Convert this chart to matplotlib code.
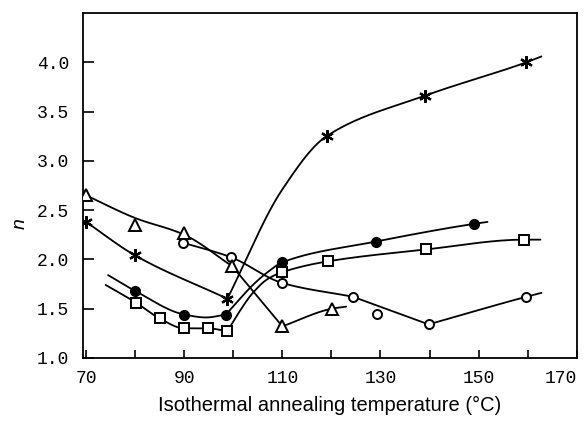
"""
Exponent n vs. isothermal annealing temperature, five sample series.
"""
import numpy as np
import matplotlib
matplotlib.use("Agg")
import matplotlib.pyplot as plt
from matplotlib.ticker import MultipleLocator

# ---------------------------------------------------------------------------
# Data (markers)
# ---------------------------------------------------------------------------
star_x = [70, 80, 98.8, 119, 139, 159.7]
star_y = [2.38, 2.04, 1.60, 3.25, 3.66, 4.00]

dot_x = [80, 90, 98.5, 110, 129, 149]
dot_y = [1.68, 1.44, 1.44, 1.97, 2.18, 2.36]

square_x = [80.2, 85, 90, 94.8, 98.8, 110, 119.3, 139.2, 159.3]
square_y = [1.56, 1.40, 1.30, 1.30, 1.27, 1.87, 1.98, 2.10, 2.20]

circle_x = [89.7, 99.6, 110, 124.4, 129.3, 139.8, 159.7]
circle_y = [2.17, 2.02, 1.76, 1.62, 1.45, 1.34, 1.62]

tri_x = [70, 80, 90, 99.8, 110, 120.2]
tri_y = [2.65, 2.35, 2.27, 1.93, 1.32, 1.50]

x_ticks = [70, 90, 110, 130, 150, 170]
y_ticks = [1.0, 1.5, 2.0, 2.5, 3.0, 3.5, 4.0]

# Hand-drawn guide curves (knots), split at sharp corners
star_curve = [
    ([70, 80, 98.8], [2.38, 2.04, 1.60]),
    ([98.8, 110, 119, 139, 159.7, 162.8],
     [1.60, 2.71, 3.25, 3.66, 4.00, 4.06]),
]
dot_curve = [
    ([74.5, 80, 90, 94.5, 98.5], [1.84, 1.68, 1.44, 1.41, 1.44]),
    ([98.5, 101, 104, 107, 110, 129, 149, 151.8],
     [1.44, 1.58, 1.74, 1.87, 1.97, 2.18, 2.36, 2.38]),
]
square_curve = [
    ([74, 80.2, 85, 90, 94.8, 98.8], [1.74, 1.56, 1.40, 1.30, 1.30, 1.27]),
    ([98.8, 101, 104, 107, 110, 119.3, 139.2, 159.3, 162.6],
     [1.27, 1.45, 1.66, 1.80, 1.87, 1.98, 2.10, 2.20, 2.20]),
]
circle_curve = [
    ([89.7, 99.6, 110, 124.4], [2.17, 2.02, 1.76, 1.62]),
    ([124.4, 139.8], [1.62, 1.34]),
    ([139.8, 159.7, 162.8], [1.34, 1.62, 1.66]),
]
tri_curve = [
    ([70, 80, 90, 99.8], [2.65, 2.42, 2.25, 1.93]),
    ([99.8, 110], [1.93, 1.32]),
    ([110, 120.2, 123], [1.32, 1.50, 1.52]),
]


def smooth(xs, ys, n=40):
    """Monotone cubic (Fritsch-Carlson) curve through the knots."""
    x = np.asarray(xs, float)
    y = np.asarray(ys, float)
    if len(x) < 3:
        return x, y
    h = np.diff(x)
    d = np.diff(y) / h
    m = np.empty_like(x)
    m[0], m[-1] = d[0], d[-1]
    for i in range(1, len(x) - 1):
        if d[i - 1] * d[i] <= 0:
            m[i] = 0.0
        else:
            w1 = 2 * h[i] + h[i - 1]
            w2 = h[i] + 2 * h[i - 1]
            m[i] = (w1 + w2) / (w1 / d[i - 1] + w2 / d[i])
    px, py = [], []
    for i in range(len(x) - 1):
        t = np.linspace(0, 1, n)
        h00 = 2 * t**3 - 3 * t**2 + 1
        h10 = t**3 - 2 * t**2 + t
        h01 = -2 * t**3 + 3 * t**2
        h11 = t**3 - t**2
        px.append(x[i] + t * h[i])
        py.append(h00 * y[i] + h10 * h[i] * m[i] + h01 * y[i + 1]
                  + h11 * h[i] * m[i + 1])
    return np.concatenate(px), np.concatenate(py)


fig = plt.figure(figsize=(5.85, 4.22), dpi=100)
ax = fig.add_axes([0.142, 0.152, 0.844, 0.817])

line_kw = dict(color="black", lw=1.3, solid_capstyle="round")
for curve in (star_curve, dot_curve, square_curve, circle_curve, tri_curve):
    for cx, cy in curve:
        sx, sy = smooth(cx, cy)
        ax.plot(sx, sy, **line_kw, zorder=2)

ax.plot(star_x, star_y, ls="none", marker=(6, 2, 0), ms=9, mew=1.6,
        color="black", zorder=3)
ax.plot(dot_x, dot_y, ls="none", marker="o", ms=7, color="black", zorder=3)
ax.plot(square_x, square_y, ls="none", marker="s", ms=6.5, mfc="white",
        mec="black", mew=1.4, zorder=3)
ax.plot(circle_x, circle_y, ls="none", marker="o", ms=6.5, mfc="white",
        mec="black", mew=1.4, zorder=3)
ax.plot(tri_x, tri_y, ls="none", marker="^", ms=8, mfc="white",
        mec="black", mew=1.4, zorder=3)

ax.set_xlim(69.4, 170)
ax.set_ylim(1.0, 4.5)
ax.set_xticks(x_ticks)
ax.xaxis.set_minor_locator(MultipleLocator(10))
ax.set_yticks(y_ticks)
ax.set_yticklabels([f"{v:.1f}" for v in y_ticks])

ax.tick_params(axis="both", which="both", direction="in", width=1.2,
               labelsize=13)
ax.tick_params(axis="x", which="both", length=6, pad=9)
ax.tick_params(axis="y", which="major", length=8, pad=10)
for lab in ax.get_xticklabels() + ax.get_yticklabels():
    lab.set_fontfamily("Liberation Mono")
# last x label sits just inside the right edge, as in the original
ax.get_xticklabels()[-1].set_horizontalalignment("right")

for sp in ax.spines.values():
    sp.set_linewidth(1.3)

ax.set_xlabel("Isothermal annealing temperature (°C)", fontsize=14.5,
              family="Liberation Sans", labelpad=6)
ax.text(-0.128, 0.39, "n", transform=ax.transAxes, rotation=90,
        fontsize=14, style="italic", family="Liberation Sans",
        ha="center", va="center")

fig.savefig("out.png", dpi=100)
